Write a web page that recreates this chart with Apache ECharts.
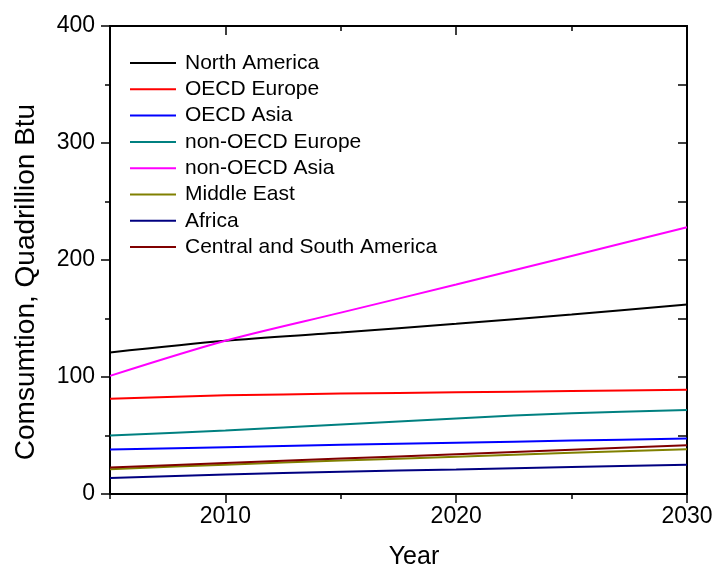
<!DOCTYPE html>
<html>
<head>
<meta charset="utf-8">
<script src="https://cdn.jsdelivr.net/npm/echarts@6/dist/echarts.min.js"></script>
<style>
  html, body { margin: 0; padding: 0; background: #fff; }
  #chart { width: 716px; height: 571px; }
</style>
</head>
<body>
<div id="chart"></div>
<script>
// Projected energy consumption by region, quadrillion Btu
const years = [2005, 2010, 2015, 2020, 2025, 2030];
const regions = [
  'North America', 'OECD Europe', 'OECD Asia', 'non-OECD Europe',
  'non-OECD Asia', 'Middle East', 'Africa', 'Central and South America'
];
const northAmerica   = [121, 131, 138, 145.5, 153.5, 162];
const oecdEurope     = [81.5, 84.3, 85.8, 86.9, 88, 89.2];
const oecdAsia       = [38, 40, 42, 43.7, 45.7, 47.4];
const nonOecdEurope  = [50, 54.3, 59.4, 64.6, 69.1, 71.7];
const nonOecdAsia    = [101, 131, 155, 179, 203.5, 228];
const middleEast     = [21.1, 25.1, 28.6, 31.8, 35.2, 38.3];
const africa         = [13.7, 16.6, 19.0, 21.0, 23.1, 25.0];
const centralSouthAm = [22.6, 26.6, 30.3, 34.0, 37.9, 41.6];

const xMajorTicks = [2010, 2020, 2030];
const xMinorTicks = [2005, 2015, 2025];

const seriesValues = [northAmerica, oecdEurope, oecdAsia, nonOecdEurope,
  nonOecdAsia, middleEast, africa, centralSouthAm];
const colors = ['#000000', '#ff0000', '#0000ff', '#008080',
  '#ff00ff', '#808000', '#000080', '#800000'];

const FONT = '"Liberation Sans", Arial, sans-serif';
const chart = echarts.init(document.getElementById('chart'));

const baseX = {
  type: 'value', min: 2005, max: 2030, interval: 5,
  splitLine: { show: false },
  axisLine: { show: true, onZero: false, lineStyle: { color: '#000', width: 2 } }
};

chart.setOption({
  animation: false,
  backgroundColor: '#ffffff',
  grid: { left: 110, right: 29, top: 26, bottom: 77, containLabel: false },
  legend: {
    orient: 'vertical', left: 125, top: 47,
    icon: 'rect',
    itemWidth: 46, itemHeight: 2, itemGap: 4.3,
    data: regions,
    textStyle: { fontFamily: FONT, fontSize: 21, color: '#000', lineHeight: 22, padding: [0, 0, 0, 4] }
  },
  xAxis: [
    Object.assign({}, baseX, {
      position: 'bottom',
      axisTick: { show: true, inside: false, length: 9, lineStyle: { width: 1.5, color: '#000' }, customValues: xMajorTicks },
      axisLabel: { show: true, margin: 11, fontFamily: FONT, fontSize: 23, color: '#000',
        customValues: xMajorTicks, formatter: v => String(v) }
    }),
    Object.assign({}, baseX, {
      position: 'bottom',
      axisTick: { show: true, inside: false, length: 5, lineStyle: { width: 1.5, color: '#000' }, customValues: xMinorTicks },
      axisLabel: { show: false }
    }),
    Object.assign({}, baseX, {
      position: 'top',
      axisTick: { show: true, inside: true, length: 9, lineStyle: { width: 1.5, color: '#000' }, customValues: xMajorTicks },
      axisLabel: { show: false }
    }),
    Object.assign({}, baseX, {
      position: 'top',
      axisTick: { show: true, inside: true, length: 5, lineStyle: { width: 1.5, color: '#000' }, customValues: xMinorTicks },
      axisLabel: { show: false }
    })
  ],
  yAxis: [
    {
      type: 'value', min: 0, max: 400, interval: 100, position: 'left',
      splitLine: { show: false },
      axisLine: { show: true, lineStyle: { color: '#000', width: 2 } },
      axisTick: { show: true, inside: false, length: 9, lineStyle: { width: 1.5, color: '#000' } },
      minorTick: { show: true, splitNumber: 2, length: 5, lineStyle: { width: 1.5, color: '#000' } },
      minorSplitLine: { show: false },
      axisLabel: { margin: 15, fontFamily: FONT, fontSize: 23, color: '#000' }
    },
    {
      type: 'value', min: 0, max: 400, interval: 50, position: 'right',
      splitLine: { show: false },
      axisLine: { show: true, lineStyle: { color: '#000', width: 2 } },
      axisTick: { show: true, inside: true, length: 9, lineStyle: { width: 1.5, color: '#000' } },
      axisLabel: { show: false }
    }
  ],
  graphic: [
    {
      type: 'text', x: 26, y: 282, rotation: Math.PI / 2,
      style: { text: 'Comsumtion, Quadrillion Btu', fontFamily: FONT, fontSize: 28,
        fill: '#000', align: 'center', verticalAlign: 'middle' }
    },
    {
      type: 'text', x: 414, y: 557,
      style: { text: 'Year', fontFamily: FONT, fontSize: 25,
        fill: '#000', align: 'center', verticalAlign: 'middle' }
    }
  ],
  series: regions.map((name, i) => ({
    name: name,
    type: 'line',
    xAxisIndex: 0, yAxisIndex: 0,
    smooth: 0.3,
    symbol: 'none',
    color: colors[i],
    lineStyle: { width: 2, color: colors[i] },
    data: years.map((y, k) => [y, seriesValues[i][k]])
  }))
});
</script>
</body>
</html>
